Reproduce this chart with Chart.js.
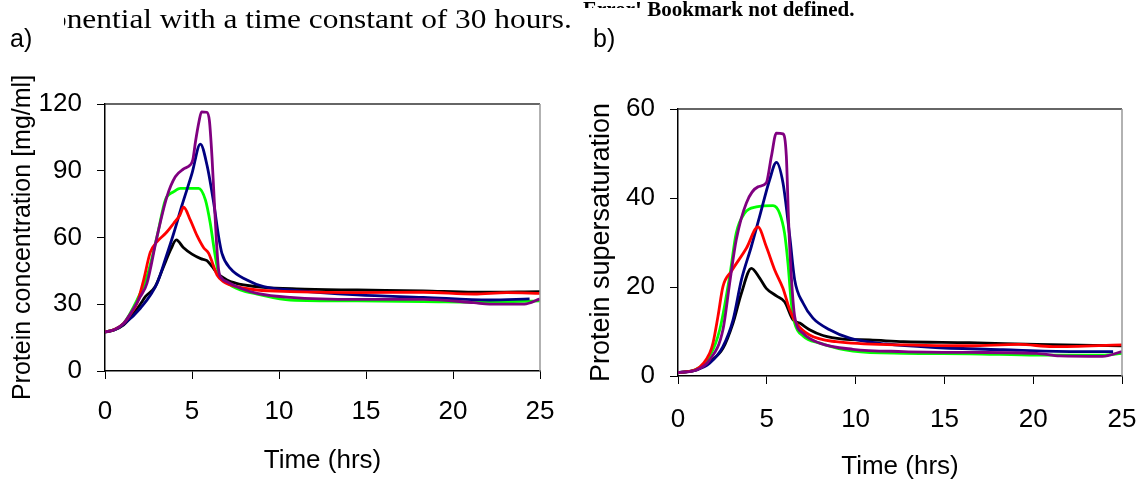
<!DOCTYPE html>
<html>
<head>
<meta charset="utf-8">
<script src="https://cdn.jsdelivr.net/npm/chart.js"></script>
<style>
  body { margin: 0; background: #fff; width: 1147px; height: 483px; position: relative; overflow: hidden; }
  canvas { position: absolute; top: 0; }
  .lbl { position: absolute; font-family: "Liberation Sans", Arial, sans-serif; font-size: 25px; line-height: 25px; color: #000; }
  .serif { position: absolute; font-family: "Liberation Serif", "Times New Roman", serif; color: #000; white-space: nowrap; }
</style>
</head>
<body>
<canvas id="chartA" width="570" height="483" style="left:0"></canvas>
<canvas id="chartB" width="577" height="483" style="left:570px"></canvas>

<div style="position:absolute;left:64px;top:0;width:515px;height:40px;overflow:hidden">
  <div class="serif" style="left:-12.7px;top:5px;font-size:28px;line-height:28px;transform:scaleX(1.12);transform-origin:0 0">onential with a time constant of 30 hours.</div>
</div>
<div class="serif" style="left:583px;top:-1px;font-size:21px;line-height:21px;font-weight:bold">Error! Bookmark not defined.</div>
<div style="position:absolute;left:575px;top:8px;width:71px;height:20px;background:#fff"></div>
<div class="lbl" style="left:10px;top:26px">a)</div>
<div class="lbl" style="left:593px;top:26px">b)</div>

<script>
// time (hrs), value pairs
// a) protein concentration [mg/ml]
const blackConc = [[0,17.5],[0.5,18.4],[1.07,20.7],[1.65,25.9],[2.03,30],[2.32,33.4],[2.89,38],[3.37,47],[3.8,55],[4.1,58.9],[4.5,55.5],[5,52.5],[5.5,50.5],[5.86,49.6],[6.15,47],[6.44,44],[7.01,40.9],[7.5,39.5],[7.97,38.7],[9.1,37.6],[11,36.9],[14.5,36.4],[18.3,36],[21.2,35.4],[25,35.7]];
const redConc = [[0,17.5],[0.5,18.5],[1.07,21.4],[1.5,26],[1.84,30.4],[2.22,40.9],[2.6,53.3],[2.99,58.1],[3.5,62],[3.95,66.4],[4.3,70],[4.52,73.6],[4.9,67.9],[5.29,60.8],[5.67,55.4],[5.96,52.9],[6.2,48],[6.44,43.1],[6.82,40.1],[7.59,37.9],[8.74,36.4],[10.65,35.7],[14.5,35.2],[18.3,35.4],[21.2,34.6],[23.1,35.2],[25,34.9]];
const greenConc = [[0,17.5],[0.5,18.5],[1.07,21.4],[1.84,31.9],[2.41,42.4],[2.99,60.4],[3.47,76.9],[3.95,80.6],[4.33,82.1],[5.38,82.1],[5.77,76.9],[6.05,66.4],[6.28,54.4],[6.53,43.9],[7.01,39.7],[7.78,36.4],[8.74,34.6],[10.65,31.9],[14.5,31.5],[18.3,31.2],[22.1,30.9],[25,31.5]];
const blueConc = [[0,17.5],[0.5,18.3],[1.07,21],[2.03,28.2],[2.99,39.4],[3.5,51],[3.95,61.9],[4.43,74.6],[5,88.8],[5.48,102],[5.86,92.6],[6.25,75.4],[6.53,60.4],[6.72,52.9],[7.2,46.1],[8.16,40.9],[9.12,37.9],[10.65,36.4],[14.5,34.2],[18.3,33.1],[22.1,31.9],[24.4,32.4]];
const purpleConc = [[0,17.5],[0.5,18.5],[1.07,21.4],[2.03,33.4],[2.41,39.4],[2.99,60.4],[3.56,78.4],[4.04,87.3],[4.52,90.8],[4.9,92.6],[5.05,95],[5.2,103],[5.4,112],[5.55,116.5],[5.85,116.3],[6.0,112.5],[6.15,96],[6.25,81],[6.4,59],[6.53,45.4],[6.72,41.6],[7.01,40.1],[7.78,37.2],[8.74,34.9],[10.65,33.1],[14.5,32.2],[18.3,32.2],[21.2,30.7],[22.1,30.1],[24.1,30.1],[25,32.4]];

// b) protein supersaturation
const blackSat = [[0,0.75],[1.03,1.35],[1.78,3.2],[2.53,6.2],[3.1,11.9],[3.57,18.6],[4.13,24.2],[4.6,22],[4.97,19.7],[5.54,18],[6,16.7],[6.48,12.6],[6.85,11.9],[7.41,10.4],[8.16,9.1],[9.29,8.3],[10.8,8.1],[12.7,7.7],[16.4,7.5],[20.2,7.1],[25,6.8]];
const redSat = [[0,0.75],[1.03,1.5],[1.78,5.1],[1.97,7.4],[2.25,13.4],[2.53,20.1],[3,23.5],[3.85,28.7],[4.5,33.5],[4.97,29.1],[5.44,23.9],[5.91,19.7],[6.29,14.9],[6.66,11.9],[7.41,9.2],[8.9,7.7],[12.7,7],[16.4,6.8],[19.2,7.1],[21.1,6.6],[25,7]];
const greenSat = [[0,0.75],[1.03,1.5],[1.78,4.4],[2.35,10.4],[2.91,22.4],[3.28,32.1],[3.75,36.6],[4.41,38],[5.35,38.3],[5.72,36.6],[6,32.1],[6.19,25.4],[6.38,16.4],[6.57,11.9],[7.04,9],[7.98,7.4],[9.85,5.6],[12.7,5.1],[16.4,5],[20.2,4.7],[23.9,4.7],[25,5.1]];
const blueSat = [[0,0.75],[1.03,1.35],[1.78,2.85],[2.53,6.6],[3.1,12.6],[3.57,21.6],[4.13,29.1],[4.6,35.9],[5.16,44.1],[5.54,48],[5.91,43.4],[6.29,31.4],[6.57,21.6],[7.04,16.4],[7.6,13],[8.54,10.4],[9.67,8.5],[11.7,7.2],[14.5,6.4],[18.3,5.9],[22.1,5.5],[24.5,5.5]];
const purpleSat = [[0,0.75],[1.03,1.35],[1.78,3.6],[2.53,10.4],[2.91,20.9],[3.28,30.6],[3.85,38.9],[4.5,42.5],[4.97,43.4],[5.26,49.4],[5.54,54.6],[5.91,54.4],[6.1,49.4],[6.23,34.4],[6.38,22.4],[6.57,13.4],[7.04,9.6],[7.98,7.4],[9.85,6],[12.7,5.5],[16.4,5.3],[20.2,5.1],[21.5,4.5],[23.9,4.4],[25,5.5]];

const timeTicks = [0, 5, 10, 15, 20, 25];

const font = { family: "'Liberation Sans', Arial, sans-serif", size: 26 };

// grey box edge on top and right of the plot
const framePlugin = {
  id: 'frame',
  afterDraw(chart) {
    const ctx = chart.ctx, a = chart.chartArea;
    ctx.save();
    ctx.lineWidth = 1.5;
    ctx.strokeStyle = '#333';
    ctx.beginPath(); ctx.moveTo(a.left, a.top); ctx.lineTo(a.right, a.top); ctx.stroke();
    ctx.strokeStyle = '#999';
    ctx.beginPath(); ctx.moveTo(a.right, a.top); ctx.lineTo(a.right, a.bottom); ctx.stroke();
    ctx.restore();
  }
};

function makeChart(id, series, yMax, yStep, yTitle, box) {
  return new Chart(document.getElementById(id), {
    type: 'line',
    data: {
      datasets: series.map(s => ({
        data: s[0].map(p => ({ x: p[0], y: p[1] })),
        borderColor: s[1],
        borderWidth: 2.8,
        pointRadius: 0,
        fill: false,
        cubicInterpolationMode: 'monotone'
      }))
    },
    options: {
      responsive: false,
      animation: false,
      devicePixelRatio: 1,
      layout: { padding: { top: box.top, right: box.right, left: 0, bottom: 0 } },
      plugins: { legend: { display: false }, tooltip: { enabled: false } },
      scales: {
        x: {
          type: 'linear', min: 0, max: 25,
          afterBuildTicks: s => { s.ticks = timeTicks.map(v => ({ value: v })); },
          ticks: { color: '#000', font: font, padding: box.xPad, maxRotation: 0 },
          grid: { drawOnChartArea: false, tickLength: 8, color: '#000' },
          border: { color: '#000', width: 1.5 },
          title: { display: true, text: 'Time (hrs)', color: '#000', font: font, padding: { top: 0, bottom: box.xTitlePad } },
          afterFit: s => { s.height = box.xHeight; s.paddingLeft = 0; s.paddingRight = 0; }
        },
        y: {
          min: 0, max: yMax,
          ticks: { stepSize: yStep, color: '#000', font: font, padding: 15 },
          grid: { drawOnChartArea: false, tickLength: 8, color: '#000' },
          border: { color: '#000', width: 1.5 },
          title: { display: true, text: yTitle, color: '#000', font: { family: font.family, size: box.yTitleSize }, padding: { top: box.yTitlePad, bottom: 0 } },
          afterFit: s => { s.width = box.yWidth; }
        }
      }
    },
    plugins: [framePlugin]
  });
}

makeChart('chartA',
  [[purpleConc, '#800080'], [redConc, '#ff0000'], [blueConc, '#000080'], [greenConc, '#00ff00'], [blackConc, '#000000']],
  120, 30, 'Protein concentration [mg/ml]',
  { top: 104, right: 30, xHeight: 112, yWidth: 105, xPad: 17, xTitlePad: 7, yTitlePad: 8, yTitleSize: 25 });

makeChart('chartB',
  [[purpleSat, '#800080'], [redSat, '#ff0000'], [blueSat, '#000080'], [greenSat, '#00ff00'], [blackSat, '#000000']],
  60, 20, 'Protein supersaturation',
  { top: 109, right: 25, xHeight: 107, yWidth: 108, xPad: 20, xTitlePad: 1, yTitlePad: 15, yTitleSize: 27 });
</script>
</body>
</html>
